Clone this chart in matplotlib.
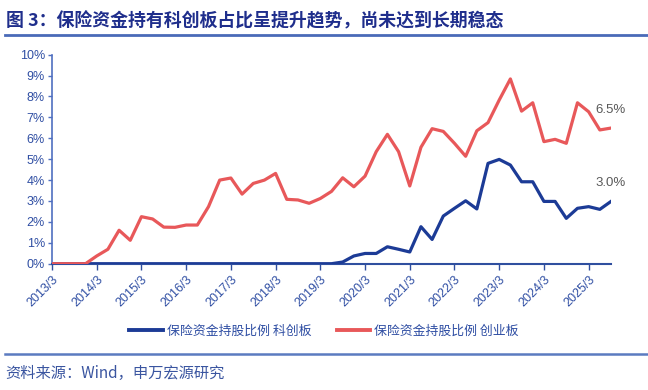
import matplotlib
matplotlib.use("Agg")
import matplotlib.pyplot as plt
from matplotlib.lines import Line2D
from matplotlib.ticker import FuncFormatter

plt.rcParams['font.family'] = ['Liberation Sans', 'Noto Sans CJK SC', 'DejaVu Sans']

# Quarterly data 2013/3 ... 2025/9 (51 quarters), values in %
quarters = [f"{y}/{m}" for y in range(2013, 2026) for m in (3, 6, 9, 12)][:51]
star_pct = [0, 0, 0, 0, 0, 0, 0, 0, 0, 0,
            0, 0, 0, 0, 0, 0, 0, 0, 0, 0,
            0, 0, 0, 0, 0, 0, 0.08, 0.37, 0.49, 0.49,
            0.81, 0.69, 0.56, 1.77, 1.16, 2.28, 2.65, 3.01, 2.62, 4.80,
            4.99, 4.72, 3.92, 3.92, 2.98, 2.98, 2.17, 2.65, 2.73, 2.60,
            2.98]
gem_pct = [0, 0, 0, 0, 0.37, 0.69, 1.60, 1.12, 2.25, 2.14,
           1.75, 1.74, 1.85, 1.85, 2.73, 4.00, 4.10, 3.33, 3.84, 4.00,
           4.32, 3.08, 3.05, 2.89, 3.12, 3.46, 4.11, 3.68, 4.19, 5.36,
           6.19, 5.36, 3.72, 5.57, 6.46, 6.33, 5.76, 5.14, 6.36, 6.75,
           7.83, 8.84, 7.30, 7.70, 5.84, 5.95, 5.76, 7.70, 7.27, 6.40,
           6.49]
series_names = ["保险资金持股比例 科创板", "保险资金持股比例 创业板"]
end_labels = ["3.0%", "6.5%"]
title = "图 3：保险资金持有科创板占比呈提升趋势，尚未达到长期稳态"
source = "资料来源：Wind，申万宏源研究"

BLUE = "#1C3B96"
RED = "#E8585A"
TICKC = "#2F4EA3"

fig = plt.figure(figsize=(6.48, 3.90), dpi=100)
ax = fig.add_axes([52/648, 1-263.7/390, (611-52)/648, (263.7-54.7)/390])

x = list(range(len(quarters)))
l1, = ax.plot(x, star_pct, color=BLUE, lw=2.3, solid_joinstyle='round', zorder=3)
l2, = ax.plot(x, gem_pct, color=RED, lw=2.3, solid_joinstyle='round', zorder=4)

ax.set_xlim(0, len(quarters)-1)
ax.set_ylim(0, 10)
ax.set_yticks(range(0, 11))
ax.yaxis.set_major_formatter(FuncFormatter(lambda v, p: f"{int(v)}%"))
ticks = x[::4]
ax.set_xticks(ticks)
ax.set_xticklabels([quarters[i] for i in ticks], rotation=45, ha='right',
                   rotation_mode='anchor')

for lab in ax.get_xticklabels() + ax.get_yticklabels():
    lab.set_color(TICKC)
    lab.set_fontsize(9)
ax.tick_params(axis='y', length=3, width=1, color="#4F6FC0", pad=2)
ax.tick_params(axis='x', length=4, width=1, color="#2F4F9F", pad=3)

for s in ('top', 'right'):
    ax.spines[s].set_visible(False)
ax.spines['left'].set_color("#4F6FC0")
ax.spines['left'].set_linewidth(1.2)
ax.spines['bottom'].set_color("#2F4F9F")
ax.spines['bottom'].set_linewidth(1.5)
ax.set_clip_on(False)

# end labels
for ser, lab in zip([star_pct, gem_pct], end_labels):
    ax.annotate(lab, xy=(x[-1], ser[-1]), xytext=(0, 13), textcoords='offset points',
                ha='center', va='center', color="#595959", fontsize=9.5)

# legend
handles = [Line2D([], [], color=BLUE, lw=2.8), Line2D([], [], color=RED, lw=2.8)]
leg = fig.legend(handles, series_names, loc='center', bbox_to_anchor=(0.5, 1-331/390),
                 ncol=2, frameon=False, handlelength=2.6, handletextpad=0.3,
                 columnspacing=2.0, prop={'family': ['Noto Sans CJK SC'], 'size': 9.3})
for t in leg.get_texts():
    t.set_color(TICKC)

# title and source
fig.text(6/648, 1-21/390, title, ha='left', va='center', fontsize=12.9, fontweight='bold',
         color="#1F2E8C", family=['Noto Sans CJK SC'])
fig.add_artist(Line2D([5/648, 1.0], [1-34.5/390, 1-34.5/390], color="#4A6AB8", lw=2.0))
fig.add_artist(Line2D([5/648, 1.0], [1-354/390, 1-354/390], color="#5B7BC0", lw=1.8))
fig.text(5/648, 1-373/390, source, ha='left', va='center', fontsize=11,
         color="#3A55A0", family=['Noto Sans CJK SC'])

fig.savefig("out.png", dpi=100)
